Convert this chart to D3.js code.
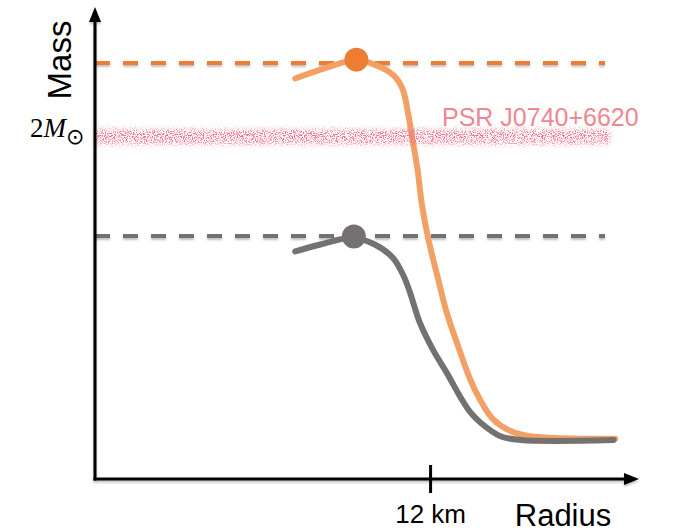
<!DOCTYPE html>
<html>
<head>
<meta charset="utf-8">
<script src="https://cdn.jsdelivr.net/npm/d3@7/dist/d3.min.js"></script>
<style>
  html, body { margin: 0; padding: 0; background: #fff; }
  svg { display: block; }
</style>
</head>
<body>
<svg id="chart" width="680" height="532"></svg>
<script>
// ---- data (radius in km, mass in solar masses) ----
const orangeRadius = [10.39, 10.75, 11.12, 11.34, 11.56, 11.67, 11.74, 11.79, 11.85, 11.90, 11.98, 12.08, 12.20, 12.36, 12.48, 12.60, 12.75, 12.96, 13.19, 14.21];
const orangeMass   = [2.34, 2.40, 2.45, 2.42, 2.36, 2.28, 2.13, 1.98, 1.81, 1.61, 1.40, 1.20, 0.97, 0.74, 0.58, 0.46, 0.35, 0.28, 0.25, 0.235];
const grayRadius   = [10.39, 10.69, 11.07, 11.34, 11.56, 11.68, 11.76, 11.88, 12.04, 12.20, 12.36, 12.48, 12.60, 12.84, 13.08, 14.19];
const grayMass     = [1.33, 1.37, 1.41, 1.37, 1.29, 1.19, 1.09, 0.91, 0.75, 0.62, 0.48, 0.39, 0.33, 0.25, 0.228, 0.228];
const maxMassValues = [2.43, 1.42];      // dashed reference lines (orange, gray)
const maxMassRadius = [11.12, 11.09];    // position of the max-mass dots
const maxMassDotMass = [2.45, 1.417];
const seriesColors = ["#ED7D31", "#767171"];
const psrMass = 2.0;
const psrLabel = "PSR J0740+6620";
const radiusTicks = [12];
const radiusTickLabels = ["12 km"];

// ---- layout ----
const svg = d3.select("#chart");
const x = d3.scaleLinear().domain([8, 14.47]).range([95, 637]);
const y = d3.scaleLinear().domain([0, 2.74]).range([479, 10]);

const defs = svg.append("defs");
const sh = defs.append("filter").attr("id", "shadow")
  .attr("filterUnits", "userSpaceOnUse")
  .attr("x", 0).attr("y", 0).attr("width", 680).attr("height", 532);
sh.append("feDropShadow").attr("dx", 0).attr("dy", 2).attr("stdDeviation", 1.3)
  .attr("flood-color", "#000").attr("flood-opacity", 0.25);

const nz = defs.append("filter").attr("id", "noise")
  .attr("filterUnits", "userSpaceOnUse")
  .attr("x", 80).attr("y", 115).attr("width", 550).attr("height", 45);
nz.append("feTurbulence").attr("type", "fractalNoise").attr("baseFrequency", "0.9")
  .attr("numOctaves", 2).attr("seed", 7).attr("result", "t");
nz.append("feColorMatrix").attr("in", "t").attr("type", "matrix")
  .attr("values", "0 0 0 0 0.86  0 0 0 0 0.15  0 0 0 0 0.25  0 0 0 4.5 -2.0")
  .attr("result", "c");
nz.append("feGaussianBlur").attr("in", "SourceGraphic").attr("stdDeviation", 2.4).attr("result", "b");
nz.append("feComposite").attr("in", "c").attr("in2", "b").attr("operator", "in");

// dashed max-mass lines
maxMassValues.forEach((m, i) => {
  svg.append("line")
    .attr("x1", x(8)).attr("x2", 605)
    .attr("y1", y(m)).attr("y2", y(m))
    .attr("stroke", seriesColors[i]).attr("stroke-width", 4)
    .attr("stroke-dasharray", "15,13")
    .attr("filter", "url(#shadow)");
});

// curves
const line = d3.line().x(d => x(d[0])).y(d => y(d[1])).curve(d3.curveCatmullRom.alpha(0.5));
const orangePts = orangeRadius.map((r, i) => [r, orangeMass[i]]);
const grayPts = grayRadius.map((r, i) => [r, grayMass[i]]);

svg.append("path").attr("d", line(orangePts))
  .attr("fill", "none").attr("stroke", "#F3A066").attr("stroke-width", 6)
  .attr("stroke-linecap", "round").attr("stroke-linejoin", "round");
svg.append("path").attr("d", line(grayPts))
  .attr("fill", "none").attr("stroke", "#767171").attr("stroke-width", 6)
  .attr("stroke-linecap", "round").attr("stroke-linejoin", "round");

// PSR band
svg.append("rect")
  .attr("x", x(8)).attr("width", 610 - x(8))
  .attr("y", y(psrMass) - 7.5).attr("height", 15)
  .attr("fill", "#fff")
  .attr("filter", "url(#noise)");

svg.append("text")
  .attr("x", 442).attr("y", 126)
  .attr("font-family", "Liberation Sans, Arial, sans-serif")
  .attr("font-size", 25).attr("fill", "#EF8790")
  .text(psrLabel);

// max-mass dots
maxMassRadius.forEach((r, i) => {
  svg.append("circle")
    .attr("cx", x(r)).attr("cy", y(maxMassDotMass[i])).attr("r", 12)
    .attr("fill", seriesColors[i]);
});

// axes
const axisG = svg.append("g").attr("filter", "url(#shadow)");
axisG.append("line").attr("x1", x(8)).attr("x2", x(8))
  .attr("y1", y(0) + 1.5).attr("y2", 20)
  .attr("stroke", "#000").attr("stroke-width", 3);
axisG.append("path")
  .attr("d", `M${x(8)},7 L${x(8) - 6},22 L${x(8) + 6},22 Z`).attr("fill", "#000");
axisG.append("line").attr("x1", x(8) - 1.5).attr("x2", 625)
  .attr("y1", y(0)).attr("y2", y(0))
  .attr("stroke", "#000").attr("stroke-width", 3);
axisG.append("path")
  .attr("d", `M639,${y(0)} L624,${y(0) - 6} L624,${y(0) + 6} Z`).attr("fill", "#000");

const xAxis = d3.axisBottom(x).tickValues(radiusTicks)
  .tickFormat((d, i) => radiusTickLabels[i]).tickSize(14);
const xg = svg.append("g").attr("transform", `translate(0,${y(0)})`).call(xAxis);
xg.select(".domain").remove();
xg.selectAll(".tick line").attr("y1", -14).attr("y2", 14)
  .attr("stroke", "#000").attr("stroke-width", 3);
xg.selectAll(".tick text").attr("y", 44).attr("dy", 0)
  .attr("font-family", "Liberation Sans, Arial, sans-serif")
  .attr("font-size", 26).attr("fill", "#000");

// axis titles
svg.append("text")
  .attr("x", 563).attr("y", 526).attr("text-anchor", "middle")
  .attr("font-family", "Liberation Sans, Arial, sans-serif")
  .attr("font-size", 31).attr("fill", "#000")
  .text("Radius");
svg.append("text")
  .attr("transform", "translate(71,60) rotate(-90)")
  .attr("text-anchor", "middle")
  .attr("font-family", "Liberation Sans, Arial, sans-serif")
  .attr("font-size", 33).attr("fill", "#000")
  .text("Mass");

// 2 M_sun label
const ml = svg.append("text")
  .attr("x", 30).attr("y", 137)
  .attr("font-family", "Liberation Serif, DejaVu Serif, serif")
  .attr("font-size", 27).attr("fill", "#000");
ml.append("tspan").text("2");
ml.append("tspan").attr("font-style", "italic").text("M");
ml.append("tspan").attr("font-family", "DejaVu Sans, sans-serif")
  .attr("font-size", 22).attr("dy", 7).attr("dx", 0).text("\u2299");
</script>
</body>
</html>
